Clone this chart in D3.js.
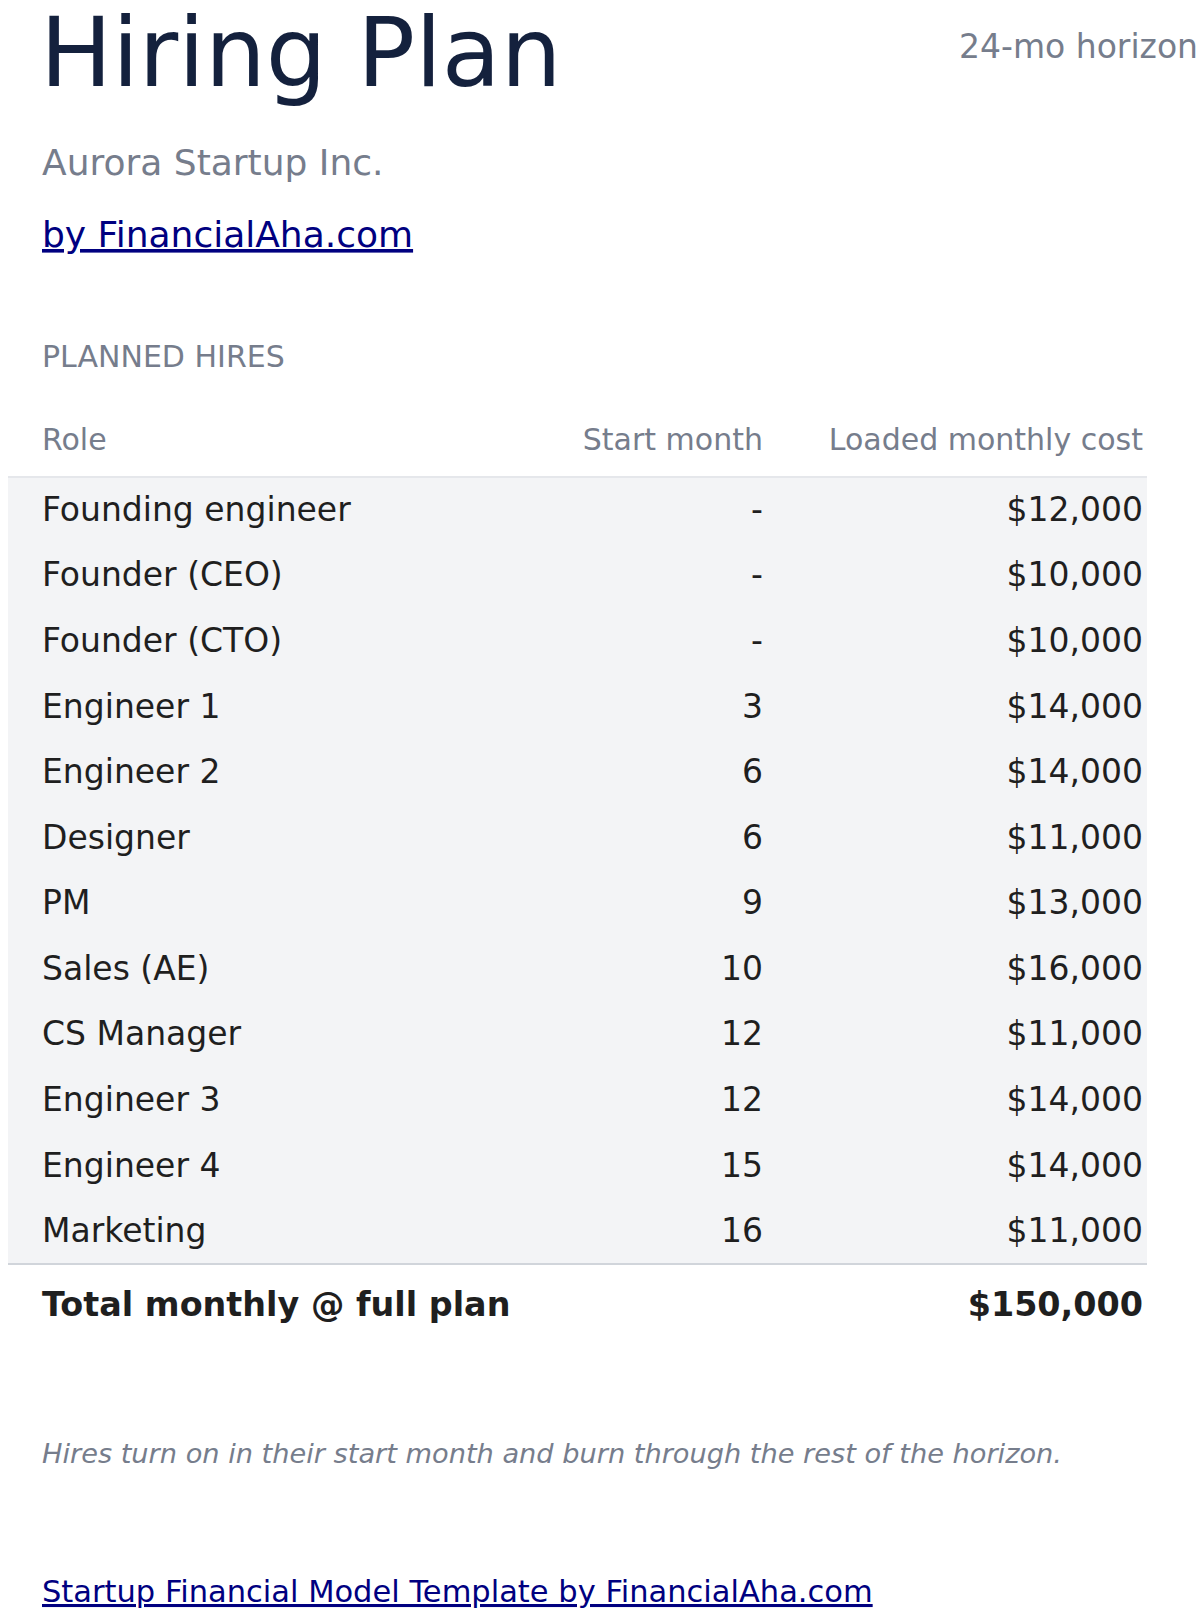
<!DOCTYPE html>
<html>
<head>
<meta charset="utf-8">
<script src="https://cdn.jsdelivr.net/npm/d3@7"></script>
<style>
  body { margin: 0; background: #fff; }
  svg { font-family: 'DejaVu Sans', sans-serif; display: block; }
</style>
</head>
<body>
<div id="chart"></div>
<script>
const roles = ['Founding engineer', 'Founder (CEO)', 'Founder (CTO)', 'Engineer 1', 'Engineer 2', 'Designer', 'PM', 'Sales (AE)', 'CS Manager', 'Engineer 3', 'Engineer 4', 'Marketing']
const startMonths = [null, null, null, 3, 6, 6, 9, 10, 12, 12, 15, 16]
const monthlyCosts = [12000, 10000, 10000, 14000, 14000, 11000, 13000, 16000, 11000, 14000, 14000, 11000]
const headers = ['Role', 'Start month', 'Loaded monthly cost']

const W = 1200, H = 1613
const fmt = d3.format('$,')
const gray = '#767d8c'
const ink = '#1f1f1f'

const svg = d3.select('#chart').append('svg').attr('width', W).attr('height', H)

svg.append('text').attr('x', 40).attr('y', 86)
  .attr('font-size', 96).attr('fill', '#14213d').text('Hiring Plan')
svg.append('text').attr('x', 1198).attr('y', 58).attr('text-anchor', 'end')
  .attr('font-size', 33).attr('fill', gray).text('24-mo horizon')
svg.append('text').attr('x', 42).attr('y', 175)
  .attr('font-size', 36).attr('fill', gray).text('Aurora Startup Inc.')
svg.append('text').attr('x', 42).attr('y', 247)
  .attr('font-size', 36).attr('fill', '#000080').attr('text-decoration', 'underline')
  .text('by FinancialAha.com')
svg.append('text').attr('x', 42).attr('y', 367)
  .attr('font-size', 30).attr('fill', gray).text('PLANNED HIRES')

// column right edges
const colX = [42, 763, 1143]
const y = d3.scaleBand().domain(roles).range([477, 1264])

svg.selectAll('.hdr').data(headers).join('text')
  .attr('class', 'hdr')
  .attr('x', (d, i) => colX[i]).attr('y', 450)
  .attr('text-anchor', (d, i) => i === 0 ? 'start' : 'end')
  .attr('font-size', 30).attr('fill', gray).text(d => d)

svg.append('rect').attr('x', 8).attr('y', 477).attr('width', 1139).attr('height', 1264 - 477)
  .attr('fill', '#f3f4f6')
svg.append('line').attr('x1', 8).attr('x2', 1147).attr('y1', 477).attr('y2', 477)
  .attr('stroke', '#e5e7eb').attr('stroke-width', 2)
svg.append('line').attr('x1', 8).attr('x2', 1147).attr('y1', 1264).attr('y2', 1264)
  .attr('stroke', '#d1d5db').attr('stroke-width', 2)

const rows = svg.selectAll('.row').data(roles).join('g')
  .attr('class', 'row')
  .attr('transform', d => `translate(0, ${y(d) + y.bandwidth() / 2 + 11})`)

rows.append('text').attr('x', colX[0]).attr('font-size', 33).attr('fill', ink).text(d => d)
rows.append('text').attr('x', colX[1]).attr('text-anchor', 'end').attr('font-size', 33).attr('fill', ink)
  .text((d, i) => startMonths[i] == null ? '-' : startMonths[i])
rows.append('text').attr('x', colX[2]).attr('text-anchor', 'end').attr('font-size', 33).attr('fill', ink)
  .text((d, i) => fmt(monthlyCosts[i]))

svg.append('text').attr('x', 42).attr('y', 1316).attr('font-size', 33.4).attr('font-weight', 'bold')
  .attr('fill', ink).text('Total monthly @ full plan')
svg.append('text').attr('x', colX[2]).attr('y', 1316).attr('text-anchor', 'end').attr('font-size', 33.4)
  .attr('font-weight', 'bold').attr('fill', ink).text(fmt(d3.sum(monthlyCosts)))

svg.append('text').attr('x', 42).attr('y', 1463).attr('font-size', 27.2).attr('font-style', 'italic')
  .attr('fill', gray).text('Hires turn on in their start month and burn through the rest of the horizon.')
svg.append('text').attr('x', 42).attr('y', 1602).attr('font-size', 30.5).attr('fill', '#000080')
  .attr('text-decoration', 'underline').text('Startup Financial Model Template by FinancialAha.com')
</script>
</body>
</html>
